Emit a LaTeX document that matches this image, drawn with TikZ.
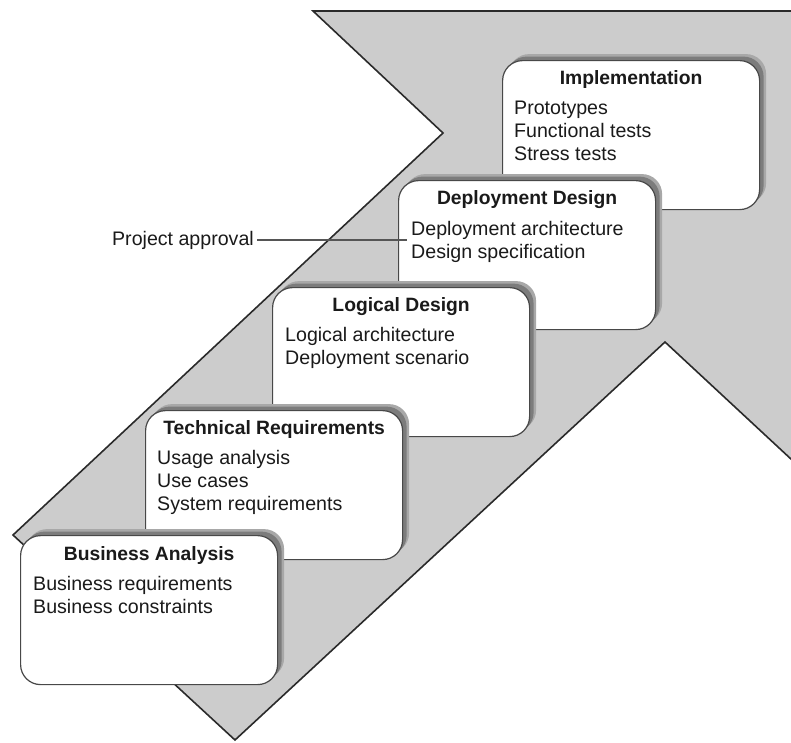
\documentclass[tikz,border=0pt]{standalone}
\usepackage{fontspec}
\setmainfont{Liberation Sans}
\usetikzlibrary{shadows}
\definecolor{arrowfill}{HTML}{CCCCCC}
\definecolor{edgecol}{HTML}{2A2A2A}
\definecolor{boxedge}{HTML}{484848}
\definecolor{txt}{HTML}{1A1A1A}
\definecolor{shadowout}{HTML}{A8A8A8}
\definecolor{shadowin}{HTML}{7C7C7C}
\begin{document}
\begin{tikzpicture}[x=1pt,y=-1pt,
  stagebox/.style={draw=boxedge, line width=1.2pt, fill=white, rounded corners=20pt,
    minimum width=257pt, minimum height=149pt, inner sep=0pt, anchor=north west,
    drop shadow={shadow xshift=6.5pt, shadow yshift=6.5pt, fill=shadowout, opacity=1},
    drop shadow={shadow xshift=4pt, shadow yshift=4pt, fill=shadowin, opacity=1}},
  stagetitle/.style={font=\bfseries\fontsize{19.3}{23}\selectfont, text=txt, anchor=base, inner sep=0pt},
  stageitems/.style={font=\fontsize{19.6}{23}\selectfont, text=txt, anchor=north west, align=left, inner sep=0pt},
  connector/.style={draw=edgecol!80, line width=1.2pt}
]
\path[use as bounding box] (0,0) rectangle (791,742);
\clip (0,0) rectangle (791,742);

% big arrow
\draw[fill=arrowfill, draw=edgecol, line width=1.6pt, line join=miter]
  (313,11) -- (820,11) -- (820,486) -- (665,342) -- (235,740) -- (13,535) -- (443,133) -- cycle;

% stages
\node[stagebox] (impl) at (502,60) {};
\node[stagetitle] (implT) at ([yshift=-24pt]impl.north) {Implementation};
\node[stageitems] (implI) at ([xshift=12pt,yshift=-37.9pt]impl.north west) {\strut Prototypes\\Functional tests\\Stress tests};

\node[stagebox] (depl) at (398,180) {};
\node[stagetitle] (deplT) at ([yshift=-24pt]depl.north) {Deployment Design};
\node[stageitems] (deplI) at ([xshift=13pt,yshift=-38.9pt]depl.north west) {\strut Deployment architecture\\Design specification};

\node[stagebox] (logi) at (272,287) {};
\node[stagetitle] (logiT) at ([yshift=-24pt]logi.north) {Logical Design};
\node[stageitems] (logiI) at ([xshift=13pt,yshift=-37.9pt]logi.north west) {\strut Logical architecture\\Deployment scenario};

\node[stagebox] (tech) at (145,410) {};
\node[stagetitle] (techT) at ([yshift=-24pt]tech.north) {Technical Requirements};
\node[stageitems] (techI) at ([xshift=12pt,yshift=-37.9pt]tech.north west) {\strut Usage analysis\\Use cases\\System requirements};

\node[stagebox] (busi) at (20,535) {};
\node[stagetitle] (busiT) at ([yshift=-25pt]busi.north) {Business Analysis};
\node[stageitems] (busiI) at ([xshift=13pt,yshift=-38.9pt]busi.north west) {\strut Business requirements\\Business constraints};

% project approval
\node[font=\fontsize{19.6}{23}\selectfont, text=txt, anchor=base east, inner sep=0pt] (pa) at (254,245) {Project approval};
\coordinate (paend) at (407,241);
\draw[connector] ([xshift=3pt]pa.east) -- (pa.east -| paend);
\end{tikzpicture}
\end{document}
